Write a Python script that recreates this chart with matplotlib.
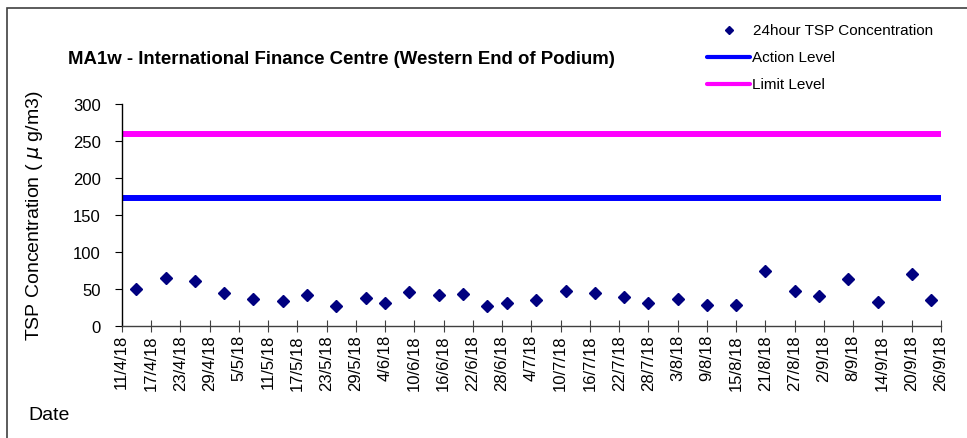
import datetime as dt
import matplotlib
matplotlib.use("Agg")
import matplotlib.pyplot as plt
from matplotlib.lines import Line2D
from matplotlib.patches import Rectangle

plt.rcParams['font.family'] = ['Liberation Sans', 'DejaVu Sans']

# sampling dates (day/month, 2018) and 24-hour TSP results
sample_dates = ["14/4", "20/4", "26/4", "2/5", "8/5", "14/5", "19/5", "25/5",
                "31/5", "4/6", "9/6", "15/6", "20/6", "25/6", "29/6", "5/7",
                "11/7", "17/7", "23/7", "28/7", "3/8", "9/8", "15/8", "21/8",
                "27/8", "1/9", "7/9", "13/9", "20/9", "24/9"]
tsp_values = [49, 64.5, 60.4, 43.8, 36.1, 33.4, 41.1, 26.1,
              37.4, 30.7, 45.1, 41.5, 42.4, 26.2, 30.7, 34.3,
              47.0, 44.7, 38.8, 30.7, 36.5, 28.4, 28.4, 73.9,
              46.5, 39.7, 63.5, 32.4, 69.5, 34.7]
action_level = 173.4
limit_level = 260.0

axis_start = dt.date(2018, 4, 11)
axis_end = dt.date(2018, 9, 26)
tick_step_days = 6


def to_date(s):
    d, m = s.split("/")
    return dt.date(2018, int(m), int(d))


x = [to_date(s) for s in sample_dates]

fig = plt.figure(figsize=(9.67, 4.39), dpi=100)
ax = fig.add_axes([0.1259, 0.2558, 0.8472, 0.5050])

ax.axhline(limit_level, color='#FF00FF', lw=4.3, zorder=2)
ax.axhline(action_level, color='#0000FF', lw=4.3, zorder=2)
ax.plot(x, tsp_values, ls='none', marker='D', ms=6.5, color='#000080',
        zorder=3)

ax.set_xlim(axis_start, axis_end)
ax.set_ylim(0, 300)
ax.set_yticks(range(0, 301, 50))

ticks = []
d = axis_start
while d <= axis_end:
    ticks.append(d)
    d += dt.timedelta(days=tick_step_days)
ax.set_xticks(ticks)
ax.set_xticklabels([f"{t.day}/{t.month}/18" for t in ticks], rotation=90)

for s in ['top', 'right']:
    ax.spines[s].set_visible(False)
ax.spines['left'].set_color('black')
ax.spines['bottom'].set_color('#404040')
ax.spines['left'].set_linewidth(1.0)
ax.spines['bottom'].set_linewidth(1.0)
ax.tick_params(axis='y', direction='out', length=5, labelsize=12, pad=10)
ax.tick_params(axis='x', direction='inout', length=8, labelsize=12,
               color='#404040', pad=2)

fig.text(68 / 967, 1 - 60 / 439,
         "MA1w - International Finance Centre (Western End of Podium)",
         fontsize=13.4, fontweight='bold', va='center', ha='left')
fig.text(35 / 967, 1 - 216 / 439, "TSP Concentration ( $\\mu$ g/m3)",
         rotation=90, fontsize=14, va='center', ha='center')
fig.text(28 / 967, 1 - 415 / 439, "Date", fontsize=14, va='center',
         ha='left')

# legend drawn by hand to follow the original layout
fig.add_artist(Line2D([729 / 967], [1 - 31 / 439], marker='D', ms=4,
                      color='#000080', ls='none'))
fig.text(753 / 967, 1 - 31 / 439, "24hour TSP Concentration", fontsize=11,
         va='center', ha='left')
fig.add_artist(Line2D([707 / 967, 750 / 967], [1 - 58 / 439] * 2,
                      color='#0000FF', lw=3, solid_capstyle='round'))
fig.text(752 / 967, 1 - 58 / 439, "Action Level", fontsize=11,
         va='center', ha='left')
fig.add_artist(Line2D([707 / 967, 750 / 967], [1 - 85 / 439] * 2,
                      color='#FF00FF', lw=3, solid_capstyle='round'))
fig.text(752 / 967, 1 - 85 / 439, "Limit Level", fontsize=11,
         va='center', ha='left')

# outer chart border
fig.add_artist(Rectangle((7 / 967, -0.1), 1.2, 1 - 9 / 439 + 0.1,
                         transform=fig.transFigure, fill=False,
                         edgecolor='#404040', lw=1.2))

fig.savefig("out.png", dpi=100)
